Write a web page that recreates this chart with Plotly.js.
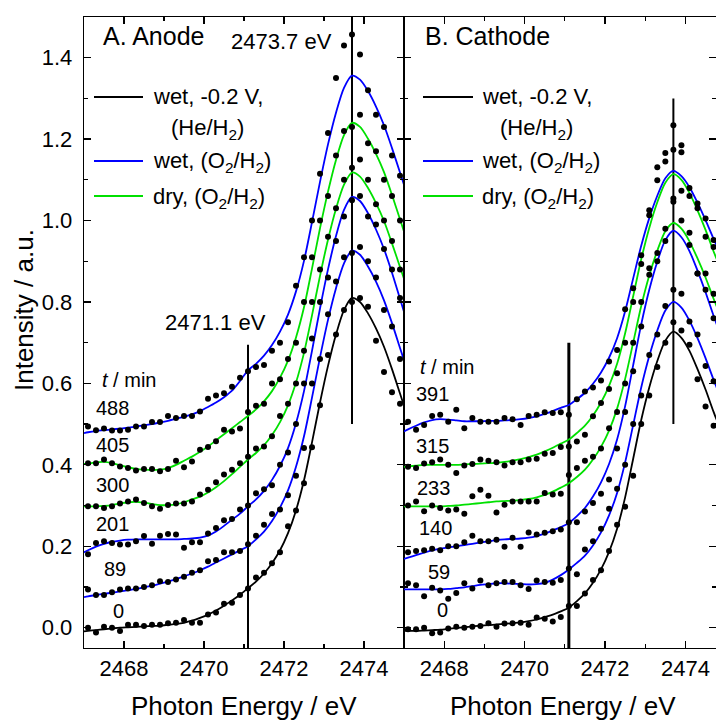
<!DOCTYPE html>
<html>
<head>
<meta charset="utf-8">
<script src="https://cdn.plot.ly/plotly-3.0.1.min.js"></script>
<style>html,body{margin:0;padding:0;background:#fff;}#chart{width:716px;height:720px;}</style>
</head>
<body>
<div id="chart"></div>
<script>
// ---------- DATA ----------
// measured points: 2467.1 ... 2474.9 eV, 0.2 eV steps
const energy = [2467.1,2467.3,2467.5,2467.7,2467.9,2468.1,2468.3,2468.5,2468.7,2468.9,
  2469.1,2469.3,2469.5,2469.7,2469.9,2470.1,2470.3,2470.5,2470.7,2470.9,
  2471.1,2471.3,2471.5,2471.7,2471.9,2472.1,2472.3,2472.5,2472.7,2472.9,
  2473.1,2473.3,2473.5,2473.7,2473.9,2474.1,2474.3,2474.5,2474.7,2474.9];
// fit curves: same grid plus the two panel edges
const fitEnergy = [2467.0].concat(energy, [2475.0]);

// A. Anode (t / min: 0, 89, 201, 300, 405, 488)
const anodeTimes = ["0","89","201","300","405","488"];
const anodeKind  = ["black","blue","blue","green","green","blue"];
const anodeData0   = [0.000,-0.012,0.002,0.000,-0.008,0.007,0.007,0.004,0.007,0.007,0.011,0.012,0.019,0.012,0.012,0.032,0.037,0.059,0.061,0.080,0.096,0.123,0.135,0.158,0.185,0.249,0.288,0.355,0.443,0.546,0.67,0.72,0.78,0.80,0.81,0.788,0.705,0.628,0.578,0.55];
const anodeData89  = [0.094,0.080,0.080,0.087,0.094,0.096,0.096,0.10,0.104,0.114,0.112,0.118,0.125,0.135,0.141,0.163,0.166,0.185,0.185,0.188,0.205,0.226,0.253,0.279,0.29,0.325,0.373,0.441,0.60,0.66,0.77,0.85,0.91,0.92,0.935,0.90,0.86,0.78,0.74,0.66];
const anodeData201 = [0.18,0.208,0.212,0.208,0.204,0.204,0.212,0.225,0.206,0.226,0.230,0.229,0.196,0.21,0.21,0.231,0.245,0.264,0.267,0.29,0.30,0.33,0.34,0.35,0.40,0.43,0.50,0.60,0.71,0.80,0.86,0.95,1.01,1.05,1.06,1.01,0.99,0.93,0.88,0.81];
const anodeData300 = [0.298,0.298,0.294,0.298,0.305,0.31,0.315,0.306,0.298,0.292,0.301,0.305,0.305,0.31,0.327,0.339,0.357,0.376,0.388,0.404,0.42,0.44,0.445,0.47,0.52,0.55,0.60,0.68,0.80,0.88,0.96,1.03,1.10,1.13,1.15,1.10,1.04,1.00,0.95,0.88];
const anodeData405 = [0.404,0.404,0.413,0.404,0.396,0.392,0.386,0.39,0.39,0.384,0.39,0.41,0.394,0.408,0.437,0.444,0.458,0.486,0.482,0.489,0.53,0.545,0.55,0.60,0.61,0.66,0.70,0.80,0.91,1.00,1.06,1.16,1.22,1.23,1.26,1.19,1.17,1.10,1.06,1.00];
const anodeData488 = [0.494,0.485,0.489,0.484,0.484,0.486,0.494,0.494,0.505,0.505,0.52,0.515,0.52,0.52,0.531,0.562,0.570,0.576,0.592,0.614,0.63,0.64,0.645,0.68,0.70,0.75,0.84,0.91,1.00,1.115,1.215,1.35,1.43,1.457,1.408,1.32,1.26,1.23,1.16,1.11];

const anodeFit0   = [-0.009,-0.008,-0.006,-0.004,-0.002,0.000,0.001,0.002,0.003,0.004,0.005,0.007,0.009,0.012,0.017,0.024,0.032,0.042,0.054,0.067,0.081,0.097,0.113,0.133,0.158,0.19,0.232,0.288,0.362,0.455,0.553,0.643,0.72,0.78,0.81,0.80,0.772,0.735,0.69,0.635,0.575,0.545];
const anodeFit89  = [0.075,0.077,0.080,0.083,0.086,0.089,0.092,0.095,0.099,0.103,0.108,0.113,0.119,0.126,0.133,0.141,0.150,0.160,0.170,0.180,0.19,0.20,0.217,0.236,0.262,0.295,0.337,0.395,0.47,0.565,0.664,0.756,0.834,0.895,0.926,0.916,0.887,0.85,0.804,0.748,0.687,0.657];
const anodeFit201 = [0.185,0.190,0.199,0.206,0.211,0.214,0.216,0.217,0.217,0.217,0.217,0.217,0.217,0.218,0.219,0.221,0.226,0.236,0.25,0.265,0.28,0.298,0.315,0.336,0.363,0.397,0.441,0.502,0.581,0.68,0.784,0.88,0.962,1.026,1.058,1.048,1.018,0.978,0.93,0.872,0.808,0.776];
const anodeFit300 = [0.298,0.298,0.298,0.299,0.301,0.305,0.308,0.309,0.307,0.304,0.301,0.301,0.303,0.308,0.315,0.322,0.332,0.345,0.36,0.377,0.395,0.413,0.429,0.448,0.473,0.505,0.546,0.602,0.675,0.767,0.864,0.953,1.029,1.088,1.118,1.108,1.08,1.043,0.999,0.944,0.886,0.857];
const anodeFit405 = [0.402,0.403,0.406,0.407,0.404,0.399,0.394,0.39,0.388,0.387,0.388,0.392,0.40,0.41,0.42,0.432,0.445,0.46,0.475,0.49,0.505,0.52,0.536,0.556,0.581,0.614,0.656,0.713,0.787,0.882,0.981,1.071,1.149,1.21,1.24,1.23,1.201,1.164,1.119,1.063,1.003,0.973];
const anodeFit488 = [0.478,0.48,0.483,0.485,0.487,0.489,0.491,0.494,0.497,0.50,0.504,0.508,0.513,0.518,0.524,0.532,0.542,0.553,0.566,0.582,0.606,0.632,0.648,0.668,0.694,0.727,0.769,0.826,0.901,0.996,1.095,1.187,1.265,1.326,1.356,1.346,1.318,1.28,1.234,1.178,1.118,1.088];

// B. Cathode (t / min: 0, 59, 140, 233, 315, 391)
const cathodeTimes = ["0","59","140","233","315","391"];
const cathodeKind  = ["black","blue","blue","green","green","blue"];
const cathodeData0   = [-0.004,-0.004,0.000,-0.014,-0.012,-0.002,0.002,0.000,0.002,0.004,0.011,0.002,0.01,0.011,0.012,0.007,0.025,0.022,0.015,0.026,0.053,0.053,0.084,0.117,0.141,0.188,0.253,0.297,0.373,0.50,0.57,0.64,0.70,0.75,0.73,0.695,0.61,0.543,0.496,0.46];
const cathodeData59  = [0.109,0.104,0.077,0.098,0.091,0.071,0.085,0.109,0.096,0.116,0.104,0.109,0.112,0.112,0.104,0.095,0.116,0.112,0.11,0.117,0.145,0.131,0.192,0.212,0.243,0.292,0.341,0.40,0.50,0.57,0.67,0.72,0.79,0.83,0.82,0.752,0.72,0.643,0.605,0.57];
const cathodeData140 = [0.185,0.188,0.19,0.194,0.19,0.2,0.2,0.21,0.226,0.212,0.212,0.216,0.199,0.221,0.199,0.234,0.229,0.233,0.237,0.241,0.259,0.259,0.285,0.306,0.329,0.364,0.44,0.53,0.63,0.74,0.867,0.90,0.95,1.046,1.0,0.94,0.87,0.83,0.76,0.72];
const cathodeData233 = [0.30,0.31,0.286,0.30,0.294,0.288,0.29,0.28,0.323,0.339,0.324,0.283,0.302,0.31,0.31,0.31,0.31,0.331,0.327,0.329,0.375,0.392,0.41,0.42,0.44,0.49,0.53,0.60,0.70,0.80,0.883,0.92,0.98,1.054,1.073,0.97,0.87,0.87,0.82,0.78];
const cathodeData315 = [0.395,0.392,0.403,0.406,0.413,0.40,0.38,0.398,0.402,0.413,0.41,0.406,0.398,0.406,0.406,0.413,0.415,0.427,0.429,0.444,0.445,0.457,0.474,0.519,0.552,0.586,0.625,0.70,0.80,0.893,1.013,1.099,1.145,1.174,1.168,1.06,1.03,0.96,0.935,0.88];
const cathodeData391 = [0.506,0.486,0.498,0.52,0.523,0.506,0.535,0.49,0.515,0.506,0.506,0.506,0.515,0.512,0.498,0.52,0.523,0.529,0.527,0.529,0.523,0.561,0.58,0.59,0.607,0.654,0.682,0.782,0.834,0.915,1.025,1.131,1.166,1.234,1.185,1.08,1.042,1.005,0.952,0.93];

const cathodeFit0   = [-0.008,-0.008,-0.008,-0.007,-0.006,-0.005,-0.003,-0.001,0.001,0.003,0.005,0.006,0.008,0.009,0.011,0.013,0.016,0.02,0.026,0.032,0.04,0.049,0.065,0.084,0.11,0.143,0.186,0.243,0.32,0.415,0.51,0.59,0.655,0.705,0.727,0.712,0.68,0.635,0.585,0.53,0.48,0.455];
const cathodeFit59  = [0.094,0.094,0.094,0.094,0.094,0.094,0.095,0.097,0.099,0.102,0.105,0.107,0.109,0.109,0.108,0.107,0.106,0.107,0.11,0.118,0.129,0.143,0.159,0.177,0.202,0.234,0.276,0.331,0.406,0.498,0.59,0.667,0.73,0.779,0.80,0.786,0.754,0.711,0.662,0.609,0.561,0.54];
const cathodeFit140 = [0.169,0.172,0.178,0.184,0.19,0.194,0.197,0.2,0.203,0.206,0.209,0.212,0.215,0.217,0.218,0.219,0.221,0.225,0.231,0.239,0.247,0.257,0.274,0.294,0.322,0.357,0.402,0.462,0.544,0.645,0.745,0.83,0.899,0.952,0.975,0.959,0.925,0.877,0.824,0.766,0.714,0.69];
const cathodeFit233 = [0.298,0.298,0.298,0.298,0.298,0.298,0.299,0.30,0.302,0.304,0.306,0.308,0.31,0.311,0.312,0.314,0.316,0.32,0.326,0.334,0.344,0.355,0.37,0.388,0.413,0.444,0.484,0.538,0.611,0.70,0.79,0.865,0.926,0.974,0.994,0.98,0.949,0.907,0.86,0.808,0.761,0.74];
const cathodeFit315 = [0.395,0.396,0.398,0.40,0.40,0.40,0.40,0.40,0.401,0.402,0.403,0.404,0.405,0.407,0.41,0.414,0.419,0.425,0.433,0.442,0.452,0.462,0.478,0.496,0.521,0.553,0.594,0.648,0.723,0.814,0.905,0.982,1.045,1.093,1.114,1.10,1.068,1.025,0.977,0.924,0.877,0.855];
const cathodeFit391 = [0.482,0.487,0.496,0.504,0.51,0.512,0.511,0.509,0.507,0.507,0.507,0.508,0.508,0.509,0.51,0.512,0.515,0.519,0.525,0.532,0.54,0.547,0.561,0.577,0.599,0.627,0.663,0.711,0.777,0.858,0.938,1.006,1.061,1.104,1.122,1.109,1.082,1.044,1.001,0.955,0.913,0.893];

// reference energies (vertical markers) and their extents
const markerEnergy = [2471.1, 2473.7];
const anodeMarkerLow  = [-0.05, 0.50];
const anodeMarkerHigh = [0.695, 1.50];
const cathodeMarkerLow  = [-0.05, 0.50];
const cathodeMarkerHigh = [0.70, 1.30];

// ---------- BUILD ----------
const COLORS = {black:"#000000", blue:"#0000ff", green:"#00e000"};
const FONT = "Liberation Sans, Arial, sans-serif";

const anodeData = [anodeData0,anodeData89,anodeData201,anodeData300,anodeData405,anodeData488];
const anodeFit  = [anodeFit0,anodeFit89,anodeFit201,anodeFit300,anodeFit405,anodeFit488];
const cathodeData = [cathodeData0,cathodeData59,cathodeData140,cathodeData233,cathodeData315,cathodeData391];
const cathodeFit  = [cathodeFit0,cathodeFit59,cathodeFit140,cathodeFit233,cathodeFit315,cathodeFit391];

const traces = [];
function addFits(fits, kinds, times, xa, ya, name) {
  fits.forEach((f, i) => traces.push({
    x: fitEnergy, y: f, xaxis: xa, yaxis: ya, type: "scatter", mode: "lines",
    line: {color: COLORS[kinds[i]], width: 1.8, shape: "spline", smoothing: 0.8},
    name: name + " fit t=" + times[i], showlegend: false, hoverinfo: "skip"
  }));
}
function addDots(datas, times, xa, ya, name) {
  datas.forEach((d, i) => traces.push({
    x: energy, y: d, xaxis: xa, yaxis: ya, type: "scatter", mode: "markers",
    marker: {color: "#000", size: 6},
    name: name + " t=" + times[i], showlegend: false
  }));
}
function addMarkers(lows, highs, xa, ya, widths) {
  markerEnergy.forEach((e, i) => traces.push({
    x: [e, e], y: [lows[i], highs[i]], xaxis: xa, yaxis: ya, type: "scatter",
    mode: "lines", line: {color: "#000", width: widths[i]}, showlegend: false, hoverinfo: "skip"
  }));
}
addMarkers(anodeMarkerLow, anodeMarkerHigh, "x", "y", [2, 2]);
addMarkers(cathodeMarkerLow, cathodeMarkerHigh, "x2", "y2", [3, 2]);
addFits(anodeFit, anodeKind, anodeTimes, "x", "y", "Anode");
addFits(cathodeFit, cathodeKind, cathodeTimes, "x2", "y2", "Cathode");
addDots(anodeData, anodeTimes, "x", "y", "Anode");
addDots(cathodeData, cathodeTimes, "x2", "y2", "Cathode");

// pixel -> paper helpers (plot area: x 84..716, y 17..648)
const L = 84, R = 716, T = 17, B = 648;
const px = v => (v - L) / (R - L);
const py = v => (B - v) / (B - T);

const annotations = [];
function ann(text, x, y, size, xanchor, extra) {
  annotations.push(Object.assign({
    text: text, xref: "paper", yref: "paper", x: px(x), y: py(y),
    xanchor: xanchor || "center", yanchor: "middle", showarrow: false,
    font: {family: FONT, size: size, color: "#000"}
  }, extra || {}));
}
ann("A. Anode", 153, 36, 25);
ann("B. Cathode", 487, 36, 25);
ann("2473.7 eV", 334, 42, 22, "right");
ann("2471.1 eV", 215, 322, 22);
ann("Intensity / a.u.", 24, 310, 26, "center", {textangle: -90});
// axis titles (placed low, near the image edge as in the reference)
ann("Photon Energy / eV", 244, 706, 26);
ann("Photon Energy / eV", 563, 706, 26);

// legends (text + sample lines)
const legendTexts = ["wet, -0.2 V,", "(He/H<sub>2</sub>)", "wet, (O<sub>2</sub>/H<sub>2</sub>)", "dry, (O<sub>2</sub>/H<sub>2</sub>)"];
const shapes = [];
function legendBlock(x0, x1, tx) {
  ann(legendTexts[0], tx, 97, 22, "left");
  ann(legendTexts[1], tx + 56, 129, 22, "center");
  ann(legendTexts[2], tx, 162, 22, "left");
  ann(legendTexts[3], tx, 198, 22, "left");
  [[97, "black"], [161, "blue"], [196, "green"]].forEach(([yy, c]) => shapes.push({
    type: "line", xref: "paper", yref: "paper", x0: px(x0), x1: px(x1), y0: py(yy), y1: py(yy),
    line: {color: COLORS[c], width: 2}
  }));
}
legendBlock(94, 143, 151);
legendBlock(423, 473, 480);

// time labels
ann("<i>t</i> / min", 100, 380, 20, "left");
ann("<i>t</i> / min", 418, 367, 20, "left");
const anodeLabelPos = [[118,611],[115,569],[112,524],[112,485],[112,445],[112,408]];
const cathodeLabelPos = [[442,610],[439,572],[435,528],[434,488],[432,446],[432,394]];
anodeTimes.forEach((t, i) => ann(t, anodeLabelPos[i][0], anodeLabelPos[i][1], 20));
cathodeTimes.forEach((t, i) => ann(t, cathodeLabelPos[i][0], cathodeLabelPos[i][1], 20));

const axisCommon = {
  showline: true, linecolor: "#000", linewidth: 1.3, mirror: "ticks",
  ticks: "inside", ticklen: 7, tickwidth: 1.3, tickcolor: "#000",
  showgrid: false, zeroline: false,
  tickfont: {family: FONT, size: 22, color: "#000"}
};
const split = (404 - L) / (R - L);
const layout = {
  width: 716, height: 720,
  margin: {l: L, r: 0, t: T, b: 720 - B},
  paper_bgcolor: "#fff", plot_bgcolor: "#fff",
  showlegend: false,
  font: {family: FONT, color: "#000"},
  xaxis: Object.assign({}, axisCommon, {
    domain: [0, split], range: [2467, 2475], tick0: 2468, dtick: 2, anchor: "y",
    minor: {dtick: 1, ticks: "inside", ticklen: 4, tickwidth: 1.3, tickcolor: "#000"}
  }),
  xaxis2: Object.assign({}, axisCommon, {
    domain: [split, 1], range: [2467, 2474.76], tick0: 2468, dtick: 2, anchor: "y2",
    minor: {dtick: 1, ticks: "inside", ticklen: 4, tickwidth: 1.3, tickcolor: "#000"}
  }),
  yaxis: Object.assign({}, axisCommon, {
    domain: [0, 1], range: [-0.05, 1.5], tick0: 0, dtick: 0.2, tickformat: ".1f", anchor: "x",
    ticklabelstandoff: 6,
    minor: {dtick: 0.1, ticks: "inside", ticklen: 4, tickwidth: 1.3, tickcolor: "#000"}
  }),
  yaxis2: Object.assign({}, axisCommon, {
    domain: [0, 1], range: [-0.05, 1.5], tick0: 0, dtick: 0.2, anchor: "x2", showticklabels: false,
    minor: {dtick: 0.1, ticks: "inside", ticklen: 4, tickwidth: 1.3, tickcolor: "#000"}
  }),
  annotations: annotations,
  shapes: shapes
};
Plotly.newPlot("chart", traces, layout, {staticPlot: true, displayModeBar: false});
</script>
</body>
</html>
